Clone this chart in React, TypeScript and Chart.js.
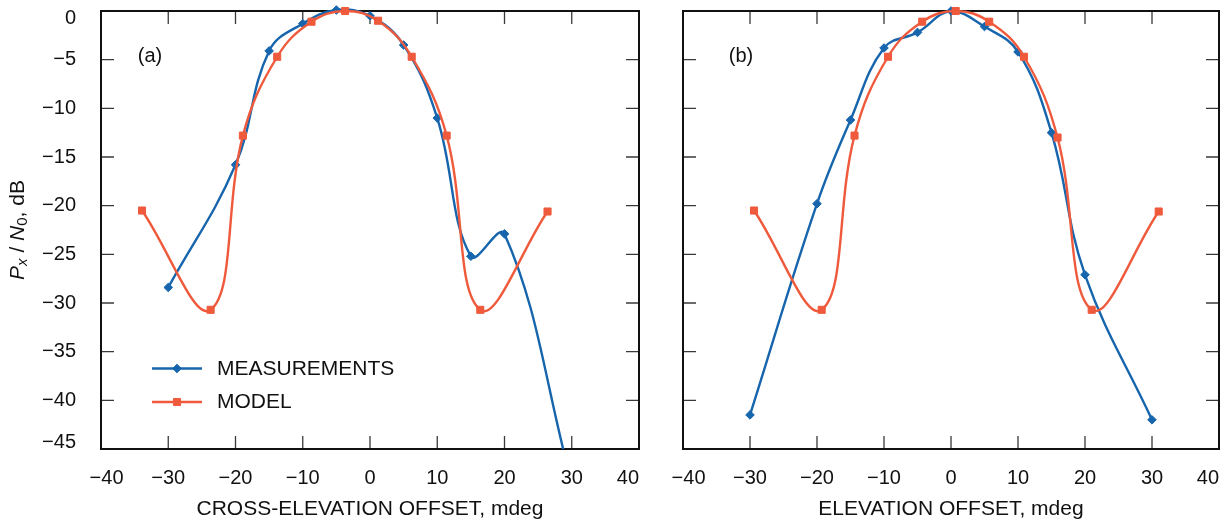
import React, { useEffect, useRef } from 'react';
import { Chart, registerables } from 'chart.js';
import { drawPoint } from 'chart.js/helpers';

Chart.register(...registerables);

const FONT = '"Liberation Sans", Arial, Helvetica, sans-serif';
const BLUE = '#1665ad';
const ORANGE = '#ef5a3c';
const INK = '#111111';

// ---- Panel (a): cross-elevation ----
const measA_x = [-30, -20, -15, -10, -5, 0, 5, 10, 15, 20, 30];
const measA_y = [-28.4, -15.8, -4.1, -1.3, 0.1, -0.5, -3.5, -11.0, -25.2, -22.9, -48.5];
const modelA_x = [-33.9, -23.7, -18.9, -13.8, -8.7, -3.7, 1.2, 6.2, 11.4, 16.4, 26.4];
const modelA_y = [-20.5, -30.7, -12.8, -4.7, -1.1, 0.0, -1.0, -4.7, -12.8, -30.7, -20.6];

// ---- Panel (b): elevation ----
const measB_x = [-30, -20, -15, -10, -5, 0, 5, 10, 15, 20, 30];
const measB_y = [-41.5, -19.8, -11.2, -3.8, -2.2, 0.0, -1.6, -4.2, -12.5, -27.1, -42.0];
const modelB_x = [-29.4, -19.3, -14.4, -9.4, -4.3, 0.7, 5.7, 10.9, 15.9, 21.0, 31.0];
const modelB_y = [-20.5, -30.7, -12.8, -4.7, -1.1, 0.0, -1.1, -4.7, -13.0, -30.7, -20.6];

// ---- axes ----
const X_MIN = -40, X_MAX = 40, X_STEP = 10;
const Y_MIN = -45, Y_MAX = 0, Y_STEP = 5;
const SERIES_NAMES = ['MEASUREMENTS', 'MODEL'];
const X_TITLES = ['CROSS-ELEVATION OFFSET, mdeg', 'ELEVATION OFFSET, mdeg'];
const PANEL_LABELS = ['(a)', '(b)'];

const fmt = (v: number) => (v < 0 ? '\u2212' + Math.abs(v) : String(v));
const xTickLabel = (v: number) => {
  const s = fmt(v);
  if (v === X_MIN) return '  ' + s;
  if (v === X_MAX) return s + '    ';
  return s;
};
const yTickLabel = (v: number) => {
  if (v === Y_MAX) return ['', fmt(v)];
  if (v === Y_MIN) return [fmt(v), ''];
  return fmt(v);
};

const toPts = (xs: number[], ys: number[]) => xs.map((x, i) => ({ x, y: ys[i] }));

const zeroPad = (s: any) => {
  s.paddingLeft = 0;
  s.paddingRight = 0;
  s.paddingTop = 0;
  s.paddingBottom = 0;
};

const framePlugin = {
  id: 'frame',
  beforeDatasetsDraw(chart: any) {
    const { ctx, chartArea: a, scales } = chart;
    const x = scales.x, y = scales.y;
    const TL = 13;
    ctx.save();
    ctx.strokeStyle = '#3a3a3a';
    ctx.lineWidth = 1.3;
    ctx.beginPath();
    for (const t of x.ticks) {
      const px = x.getPixelForValue(t.value);
      if (px <= a.left + 1 || px >= a.right - 1) continue;
      ctx.moveTo(px, a.bottom);
      ctx.lineTo(px, a.bottom - TL);
      ctx.moveTo(px, a.top);
      ctx.lineTo(px, a.top + TL);
    }
    for (const t of y.ticks) {
      const py = y.getPixelForValue(t.value);
      if (py <= a.top + 1 || py >= a.bottom - 1) continue;
      ctx.moveTo(a.left, py);
      ctx.lineTo(a.left + TL, py);
      ctx.moveTo(a.right, py);
      ctx.lineTo(a.right - TL, py);
    }
    ctx.stroke();
    ctx.strokeStyle = INK;
    ctx.lineWidth = 2;
    ctx.strokeRect(a.left, a.top, a.right - a.left, a.bottom - a.top);
    ctx.restore();
  },
};

function makeDecorPlugin(panelLabel: string, labelDx: number, showLegend: boolean, showYTitle: boolean) {
  return {
    id: 'decor',
    afterDatasetsDraw(chart: any) {
      const { ctx, chartArea: a } = chart;
      ctx.save();
      ctx.fillStyle = INK;
      ctx.font = `20px ${FONT}`;
      ctx.textAlign = 'center';
      ctx.textBaseline = 'middle';
      ctx.fillText(panelLabel, a.left + labelDx, a.top + 45);

      if (showLegend) {
        chart.data.datasets.forEach((ds: any, i: number) => {
          const yy = a.top + 357.5 + i * 33.5;
          const x0 = a.left + 51, x1 = a.left + 101;
          ctx.strokeStyle = ds.borderColor;
          ctx.lineWidth = ds.borderWidth;
          ctx.beginPath();
          ctx.moveTo(x0, yy);
          ctx.lineTo(x1, yy);
          ctx.stroke();
          ctx.fillStyle = ds.pointBackgroundColor;
          ctx.strokeStyle = ds.pointBorderColor;
          ctx.lineWidth = 1;
          drawPoint(ctx, { pointStyle: ds.pointStyle, radius: ds.pointRadius, rotation: 0, borderWidth: 1 }, (x0 + x1) / 2, yy);
          ctx.fillStyle = INK;
          ctx.font = `21px ${FONT}`;
          ctx.textAlign = 'left';
          ctx.textBaseline = 'middle';
          ctx.fillText(ds.label, a.left + 116, yy + 0.5);
        });
      }

      if (showYTitle) {
        const parts = [
          { t: 'P', f: `italic 21px ${FONT}`, dy: 0 },
          { t: 'x', f: `italic 15px ${FONT}`, dy: 5 },
          { t: ' / ', f: `21px ${FONT}`, dy: 0 },
          { t: 'N', f: `italic 21px ${FONT}`, dy: 0 },
          { t: '0', f: `15px ${FONT}`, dy: 5 },
          { t: ', dB', f: `21px ${FONT}`, dy: 0 },
        ];
        let total = 0;
        const widths = parts.map((p) => {
          ctx.font = p.f;
          const w = ctx.measureText(p.t).width;
          total += w;
          return w;
        });
        ctx.translate(18, (a.top + a.bottom) / 2);
        ctx.rotate(-Math.PI / 2);
        ctx.textAlign = 'left';
        ctx.textBaseline = 'middle';
        ctx.fillStyle = INK;
        let cx = -total / 2;
        parts.forEach((p, i) => {
          ctx.font = p.f;
          ctx.fillText(p.t, cx, p.dy);
          cx += widths[i];
        });
      }
      ctx.restore();
    },
  };
}

function buildConfig(
  measX: number[], measY: number[], modelX: number[], modelY: number[],
  yAxisWidth: number, padRight: number, idx: number, labelDx: number
): any {
  const clip = { left: 10, right: 10, top: 10, bottom: 0 };
  const first = idx === 0;
  return {
    type: 'line',
    data: {
      datasets: [
        {
          label: SERIES_NAMES[0],
          data: toPts(measX, measY),
          borderColor: BLUE,
          backgroundColor: BLUE,
          pointBackgroundColor: BLUE,
          pointBorderColor: BLUE,
          borderWidth: 2.4,
          pointStyle: 'rectRot',
          pointRadius: 4.3,
          pointBorderWidth: 1,
          tension: 0.4,
          fill: false,
          clip,
          order: 1,
        },
        {
          label: SERIES_NAMES[1],
          data: toPts(modelX, modelY),
          borderColor: ORANGE,
          backgroundColor: ORANGE,
          pointBackgroundColor: ORANGE,
          pointBorderColor: ORANGE,
          borderWidth: 2.4,
          pointStyle: 'rect',
          pointRadius: 5,
          pointBorderWidth: 1,
          tension: 0.4,
          fill: false,
          clip,
          order: 0,
        },
      ],
    },
    options: {
      responsive: false,
      animation: false,
      events: [],
      layout: { padding: { left: 0, top: 11, right: padRight, bottom: 0 } },
      plugins: { legend: { display: false }, tooltip: { enabled: false } },
      scales: {
        x: {
          type: 'linear',
          min: X_MIN,
          max: X_MAX,
          grid: { display: false },
          border: { display: false },
          ticks: {
            stepSize: X_STEP,
            autoSkip: false,
            maxRotation: 0,
            padding: 9,
            color: INK,
            font: { family: FONT, size: 20 },
            callback: (v: number) => xTickLabel(v),
          },
          title: {
            display: true,
            text: X_TITLES[idx],
            color: INK,
            font: { family: FONT, size: 21 },
            padding: { top: 0, bottom: 1 },
          },
          afterFit: (s: any) => { s.height = 74; zeroPad(s); },
        },
        y: {
          type: 'linear',
          min: Y_MIN,
          max: Y_MAX,
          grid: { display: false },
          border: { display: false },
          ticks: {
            display: first,
            stepSize: Y_STEP,
            autoSkip: false,
            padding: 17,
            color: INK,
            font: { family: FONT, size: 20, lineHeight: 0.7 },
            callback: (v: number) => yTickLabel(v),
          },
          afterFit: (s: any) => { s.width = yAxisWidth; zeroPad(s); },
        },
      },
    },
    plugins: [framePlugin, makeDecorPlugin(PANEL_LABELS[idx], labelDx, first, first)],
  };
}

export default function App() {
  const refA = useRef<HTMLCanvasElement | null>(null);
  const refB = useRef<HTMLCanvasElement | null>(null);

  useEffect(() => {
    const charts: Chart[] = [];
    if (refA.current) {
      charts.push(new Chart(refA.current, buildConfig(measA_x, measA_y, modelA_x, modelA_y, 101, 3, 0, 49)));
    }
    if (refB.current) {
      charts.push(new Chart(refB.current, buildConfig(measB_x, measB_y, modelB_x, modelB_y, 33, 11, 1, 58)));
    }
    return () => charts.forEach((c) => c.destroy());
  }, []);

  return (
    <div style={{ position: 'fixed', left: 0, top: 0, width: 1230, height: 523, background: '#ffffff' }}>
      <canvas ref={refA} width={645} height={523} style={{ position: 'absolute', left: 0, top: 0, width: 645, height: 523 }} />
      <canvas ref={refB} width={580} height={523} style={{ position: 'absolute', left: 650, top: 0, width: 580, height: 523 }} />
    </div>
  );
}
